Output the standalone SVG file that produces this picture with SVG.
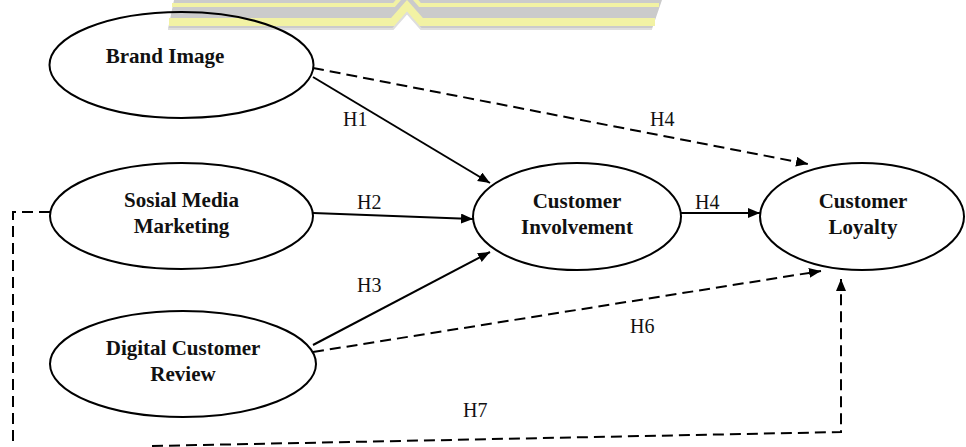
<svg xmlns="http://www.w3.org/2000/svg" width="966" height="447" viewBox="0 0 966 447">
<style>
  .node ellipse { fill: none; stroke: #000000; stroke-width: 2; }
  .node text { font-family: "Liberation Serif", "Times New Roman", serif; font-weight: bold; font-size: 21px; fill: #111111; text-anchor: middle; }
  .lbl { font-family: "Liberation Serif", "Times New Roman", serif; font-size: 20px; fill: #111111; }
  .solid { fill: none; stroke: #000000; stroke-width: 2; }
  .dash { fill: none; stroke: #000000; stroke-width: 2; stroke-dasharray: 11 6; }
  .wm { fill: none; stroke-linejoin: miter; }
</style>
<defs>
  <marker id="arrow" markerUnits="userSpaceOnUse" markerWidth="13" markerHeight="11" refX="12" refY="5" orient="auto">
    <path d="M0,0 L12,5 L0,10 Z" fill="#000000"/>
  </marker>
</defs>
<rect width="966" height="447" fill="#ffffff"/>
<g id="watermark">
  <polygon points="174,0 662,0 652,29 421,29 407,13 393,29 168,29" fill="#cbcbcb"/>
  <polyline class="wm" points="172,5 394,5 407,-10 420,5 659,5" stroke="#f2f2a4" stroke-width="4"/>
  <polyline class="wm" points="169,22 393,22 407,6 421,22 655,22" stroke="#f2f2a4" stroke-width="8"/>
  <polyline class="wm" points="168,29 393,29 407,13 421,29 652,29" stroke="#dedede" stroke-width="2"/>
</g>
<g id="connectors">
  <line class="solid" x1="313" y1="77" x2="490" y2="183" marker-end="url(#arrow)"/>
  <line class="dash" x1="313" y1="68" x2="808" y2="164" marker-end="url(#arrow)"/>
  <line class="solid" x1="313" y1="213" x2="473" y2="219" marker-end="url(#arrow)"/>
  <line class="solid" x1="313" y1="345" x2="490" y2="252" marker-end="url(#arrow)"/>
  <line class="dash" x1="313" y1="352" x2="821" y2="271" marker-end="url(#arrow)"/>
  <line class="solid" x1="681" y1="213" x2="760" y2="213" marker-end="url(#arrow)"/>
  <path class="dash" d="M50,212 H13 V452 M152,446 L841,432 V279" marker-end="url(#arrow)"/>
  <text class="lbl" x="343" y="126">H1</text>
  <text class="lbl" x="650" y="126">H4</text>
  <text class="lbl" x="357" y="209">H2</text>
  <text class="lbl" x="357" y="292">H3</text>
  <text class="lbl" x="695" y="209">H4</text>
  <text class="lbl" x="630" y="333">H6</text>
  <text class="lbl" x="463" y="417">H7</text>
</g>
<g id="brand-image" class="node">
  <ellipse cx="181.5" cy="65" rx="132" ry="53"/>
  <text x="165" y="63">Brand Image</text>
</g>
<g id="sosial-media-marketing" class="node">
  <ellipse cx="181.5" cy="216" rx="131.5" ry="53"/>
  <text x="181.5" y="207">Sosial Media</text>
  <text x="181.5" y="233">Marketing</text>
</g>
<g id="digital-customer-review" class="node">
  <ellipse cx="183" cy="364" rx="133" ry="53"/>
  <text x="183" y="355">Digital Customer</text>
  <text x="183" y="381">Review</text>
</g>
<g id="customer-involvement" class="node">
  <ellipse cx="577" cy="216.5" rx="104" ry="53.5"/>
  <text x="577" y="208">Customer</text>
  <text x="577" y="234">Involvement</text>
</g>
<g id="customer-loyalty" class="node">
  <ellipse cx="862" cy="216.5" rx="102" ry="53.5"/>
  <text x="863" y="208">Customer</text>
  <text x="863" y="234">Loyalty</text>
</g>
</svg>
